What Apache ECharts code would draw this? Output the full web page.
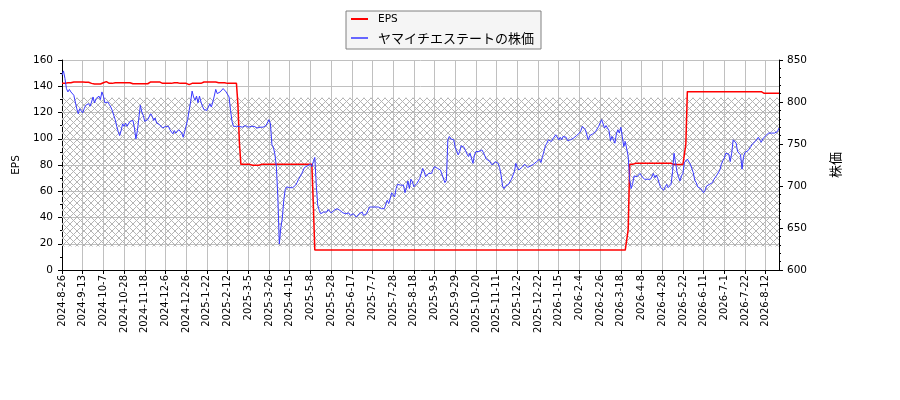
<!DOCTYPE html>
<html>
<head>
<meta charset="utf-8">
<script src="https://cdn.jsdelivr.net/npm/echarts@6/dist/echarts.min.js"></script>
<style>html,body{margin:0;padding:0;background:#fff}#c{width:900px;height:400px}</style>
</head>
<body>
<div id="c"></div>
<script>
// ---- data ----
const tickDates = ['2024-8-26','2024-9-13','2024-10-7','2024-10-28','2024-11-18','2024-12-6','2024-12-26','2025-1-22','2025-2-12','2025-3-5','2025-3-26','2025-4-15','2025-5-8','2025-5-28','2025-6-17','2025-7-7','2025-7-28','2025-8-18','2025-9-5','2025-9-29','2025-10-20','2025-11-11','2025-12-2','2025-12-22','2026-1-15','2026-2-4','2026-2-26','2026-3-18','2026-4-8','2026-4-28','2026-5-22','2026-6-11','2026-7-1','2026-7-22','2026-8-12'];
const marketHolidays = ['2024-9-16','2024-9-23','2024-10-14','2024-11-4','2024-12-31','2025-1-1','2025-1-2','2025-1-3','2025-1-13','2025-2-11','2025-2-24','2025-3-20','2025-4-29','2025-5-5','2025-5-6','2025-7-21','2025-8-11','2025-9-15','2025-9-23','2025-10-13','2025-11-3','2025-11-24','2025-12-31','2026-1-1','2026-1-2','2026-1-12','2026-2-11','2026-2-23','2026-3-20','2026-4-29','2026-5-4','2026-5-5','2026-5-6','2026-7-20','2026-8-11'];
const daysPerTick = 14;
const daysAfterLastTick = 9;

const price = [
832,837,828,816,812,815,812,814,808,800,
792,786,792,794,787,792,796,794,798,795,
800,806,799,804,803,807,803,812,807,799,
799,800,797,794,790,784,779,771,765,760,
766,774,771,775,771,769,777,775,778,769,
756,766,781,796,788,784,777,778,779,779,
786,783,778,781,775,777,773,771,769,771,
771,769,771,767,769,762,766,763,765,767,
766,763,758,765,767,779,790,800,813,806,
802,807,799,807,800,795,791,792,790,794,
798,794,800,807,815,810,810,812,813,816,
815,812,810,806,790,777,771,771,771,771,
771,771,770,771,772,771,770,771,771,770,
771,771,769,769,770,769,770,772,772,771,
779,774,749,746,738,723,687,631,650,661,
683,696,699,697,698,700,698,698,701,704,
708,710,714,718,722,721,724,725,726,723,
729,734,701,677,671,667,667,669,667,669,
672,671,668,669,671,672,673,672,671,669,
668,667,667,667,668,665,667,667,665,663,
664,667,669,669,665,667,667,671,675,673,
675,675,675,677,675,675,673,671,673,673,
683,679,685,692,691,687,697,702,704,701,
703,701,692,698,706,697,708,705,699,701,
703,706,709,715,721,717,711,713,715,713,
715,720,723,724,721,719,719,714,712,704,
707,755,759,756,756,755,746,746,737,741,
748,750,746,742,738,735,739,737,727,737,
741,741,741,741,743,740,736,732,732,730,
729,725,723,729,727,727,722,713,700,697,
700,702,702,701,708,710,717,727,722,719,
720,722,722,726,724,722,724,724,725,726,
727,729,729,732,728,735,741,748,751,755,
756,753,756,757,761,763,755,758,755,759,
760,758,754,754,755,756,757,759,760,761,
763,766,771,769,767,765,755,760,761,762,
763,765,767,771,775,779,777,769,772,774,
766,754,759,758,751,762,767,763,770,759,
747,753,752,735,707,697,703,712,710,711,
713,715,712,710,708,707,708,709,708,711,
715,710,713,709,703,698,697,695,699,702,
698,700,702,717,739,728,717,711,706,712,
715,728,726,732,734,726,721,716,707,704,
699,697,697,695,692,695,700,698,702,702,
704,708,710,713,713,719,726,730,733,739,
741,738,729,739,755,757,751,741,739,737,
720,735,740,739,742,744,747,750,752,753,
755,758,759,752,756,757,760,761,763,764,
763,761,763,763,765,769
];

// EPS as runs: [value, number of consecutive trading days]
const epsRuns = [
[142.2,4],[142.7,4],[143.2,7],[143.0,4],[142.2,2],[141.7,6],[142.7,2],[143.5,3],[142.2,4],[142.7,11],
[141.9,13],[143.3,8],[142.2,7],[142.7,5],[142.2,5],[141.2,2],[142.2,9],[143.2,10],[142.7,6],[142.2,7],
[126,1],[97,1],[80.5,8],[79.8,6],[80.5,35],[50,1],[15.2,212],[31,1],[80.5,4],[81.3,25],
[80.3,9],[96,1],[135.9,51],[134.6,12]
];

const hatchBand = [628, 805]; // on the price axis

// ---- build categories (trading days) ----
function parseD(s){const p=s.split('-').map(Number);return new Date(p[0],p[1]-1,p[2]);}
function fmtD(d){return d.getFullYear()+'-'+(d.getMonth()+1)+'-'+d.getDate();}
const holSet = new Set(marketHolidays);
function nextTradingDays(startStr, n){
  const out=[]; const d=parseD(startStr);
  while(out.length<n){ d.setDate(d.getDate()+1); const w=d.getDay(); const s=fmtD(d);
    if(w!==0&&w!==6&&!holSet.has(s)) out.push(s); }
  return out;
}
const categories=[];
tickDates.forEach((t,k)=>{
  categories.push(t);
  const n = (k<tickDates.length-1) ? daysPerTick-1 : daysAfterLastTick;
  nextTradingDays(t,n).forEach(s=>categories.push(s));
});
const eps=[];
epsRuns.forEach(r=>{for(let i=0;i<r[1];i++) eps.push(r[0]);});

// ---- hatch pattern ----
function makeHatch(){
  const c=document.createElement('canvas'); c.width=7; c.height=7;
  const g=c.getContext('2d'); g.strokeStyle='#b4b4b4'; g.lineWidth=1;
  g.beginPath(); g.moveTo(0,0); g.lineTo(7,7); g.moveTo(7,0); g.lineTo(0,7); g.stroke();
  return c;
}

const FONT='DejaVu Sans';
const CJK='Noto Sans CJK JP';
const gridColor='#c0c0c0';
const chart=echarts.init(document.getElementById('c'),null,{renderer:'canvas'});
chart.setOption({
  animation:false,
  backgroundColor:'#ffffff',
  textStyle:{fontFamily:FONT},
  grid:{left:62,right:121,top:60,bottom:130,containLabel:false},
  legend:{
    orient:'vertical', left:346, top:11, itemWidth:17, itemHeight:2, icon:'rect', itemGap:5,
    padding:[1,7,4,5], backgroundColor:'#f5f5f5', borderColor:'#808080', borderWidth:1, borderRadius:0,
    formatter:function(n){return n==='EPS' ? '{e|'+n+'}' : '{j|'+n+'}';},
    textStyle:{color:'#000',fontFamily:FONT,fontSize:10.5,lineHeight:14,
      rich:{e:{fontFamily:FONT,fontSize:10.5,lineHeight:14,padding:[0,0,0,5]},
            j:{fontFamily:CJK,fontSize:13,lineHeight:14,padding:[0,0,0,5]}}},
    data:['EPS','ヤマイチエステートの株価']
  },
  xAxis:{
    type:'category', data:categories, boundaryGap:false,
    axisLine:{lineStyle:{color:'#000',width:1}},
    axisTick:{interval:daysPerTick-1,length:4,lineStyle:{color:'#000'}},
    axisLabel:{interval:daysPerTick-1,rotate:90,fontSize:10,color:'#000',margin:5,fontFamily:FONT},
    splitLine:{show:true,interval:daysPerTick-1,lineStyle:{color:gridColor,width:1}}
  },
  yAxis:[{
    type:'value', min:0, max:160, interval:20, position:'left',
    name:'EPS', nameLocation:'middle', nameGap:34, nameRotate:90,
    nameTextStyle:{color:'#000',fontSize:10.5,fontFamily:FONT},
    axisLine:{show:true,lineStyle:{color:'#000'}},
    axisTick:{show:true,length:4,lineStyle:{color:'#000'}},
    minorTick:{show:true,splitNumber:2,length:2,lineStyle:{color:'#000'}},
    axisLabel:{fontSize:10.5,color:'#000',margin:9,fontFamily:FONT},
    splitLine:{show:true,lineStyle:{color:gridColor,width:1}}
  },{
    type:'value', min:600, max:850, interval:50, position:'right',
    name:'株価', nameLocation:'middle', nameGap:50, nameRotate:90,
    nameTextStyle:{color:'#000',fontSize:13,fontFamily:CJK},
    axisLine:{show:true,lineStyle:{color:'#000'}},
    axisTick:{show:true,length:4,lineStyle:{color:'#000'}},
    minorTick:{show:true,splitNumber:5,length:2,lineStyle:{color:'#000'}},
    axisLabel:{fontSize:10.5,color:'#000',margin:8,fontFamily:FONT},
    splitLine:{show:false}
  }],
  series:[{
    name:'EPS', type:'line', yAxisIndex:0, data:eps, showSymbol:false, symbol:'none',
    lineStyle:{color:'#ff0000',width:1.5}, itemStyle:{color:'#ff0000'}, z:2
  },{
    name:'ヤマイチエステートの株価', type:'line', yAxisIndex:1, data:price, showSymbol:false, symbol:'none',
    lineStyle:{color:'#3838ff',width:1}, itemStyle:{color:'#6666ff'}, z:3,
    markArea:{silent:true, z:1, itemStyle:{color:{image:makeHatch(),repeat:'repeat'},borderWidth:0},
      data:[[{yAxis:hatchBand[0]},{yAxis:hatchBand[1]}]]}
  }]
});
</script>
</body>
</html>
